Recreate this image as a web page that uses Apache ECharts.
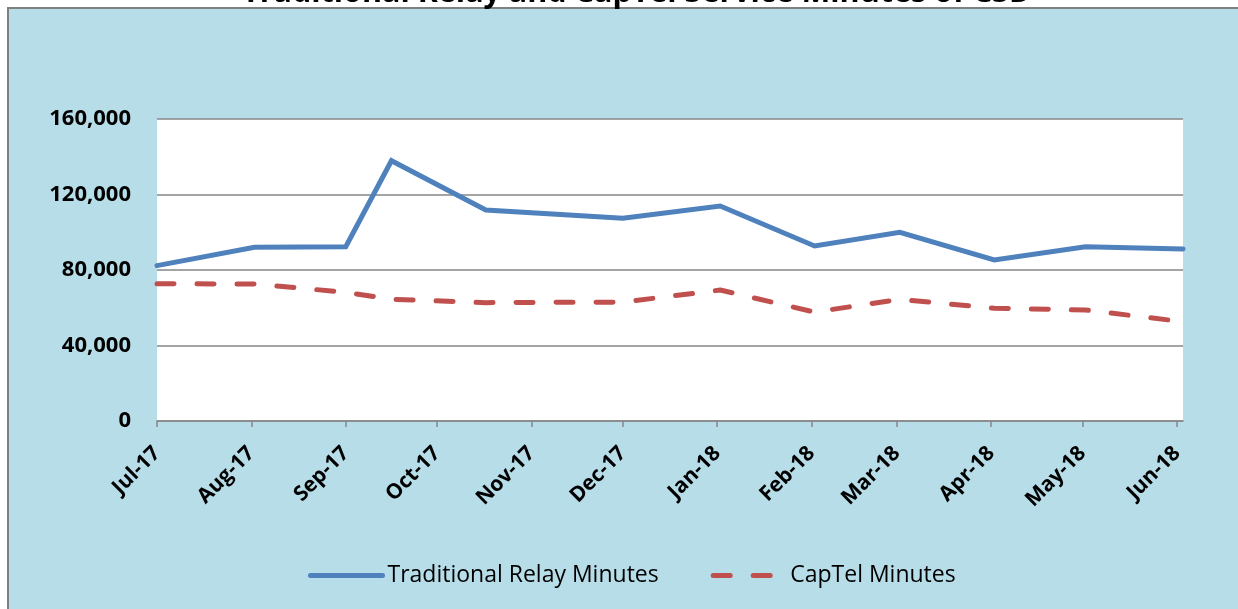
<!DOCTYPE html>
<html>
<head>
<meta charset="utf-8">
<script src="https://cdn.jsdelivr.net/npm/echarts@6/dist/echarts.min.js"></script>
<style>
  html, body { margin: 0; padding: 0; background: #fff; overflow: hidden; }
  #box { position: absolute; left: 7px; top: 7px; width: 1240px; height: 610px;
         background: #b7dde8; border-left: 2px solid #808080; border-top: 2px solid #808080; }
  #main { position: absolute; left: 0; top: 0; width: 1238px; height: 609px; }
</style>
</head>
<body>
<div id="box"></div>
<div id="main"></div>
<script>
// dates the points were recorded on (date axis, not evenly spaced)
let pointDates = ['2017-07-01', '2017-08-02', '2017-09-01', '2017-09-16', '2017-10-17', '2017-12-01',
                  '2018-01-02', '2018-02-02', '2018-03-02', '2018-04-02', '2018-05-02', '2018-06-03'];
let relayMinutes = [82300, 92000, 92300, 137900, 111800, 107400, 113900, 92700, 100000, 85300, 92300, 91100];
let captelMinutes = [72700, 72600, 68200, 64500, 62700, 63000, 69400, 57700, 64500, 59700, 58800, 52600];
// month ticks on the x axis
let monthTicks = ['2017-07-01', '2017-08-01', '2017-09-01', '2017-10-01', '2017-11-01', '2017-12-01',
                  '2018-01-01', '2018-02-01', '2018-03-01', '2018-04-01', '2018-05-01', '2018-06-01'];
let monthNames = ['Jan', 'Feb', 'Mar', 'Apr', 'May', 'Jun', 'Jul', 'Aug', 'Sep', 'Oct', 'Nov', 'Dec'];
let yTicks = [0, 40000, 80000, 120000, 160000];

function toTime(s) {
    let p = s.split('-');
    return new Date(+p[0], +p[1] - 1, +p[2]).getTime();
}
let tickTimes = monthTicks.map(toTime);

let chart = echarts.init(document.getElementById('main'));
let option = {
    backgroundColor: 'transparent',
    title: {
        text: 'Traditional Relay and CapTel Service Minutes of CSD',
        left: 237,
        top: -27,
        textStyle: { fontFamily: 'Open Sans', fontWeight: 'bold', fontSize: 30.5, color: '#000' }
    },
    grid: {
        left: 157, right: 55, top: 119, bottom: 188,
        show: true, backgroundColor: '#fff', borderWidth: 0
    },
    legend: {
        bottom: 17,
        left: 303,
        itemWidth: 72,
        itemHeight: 14,
        itemGap: 52,
        itemStyle: { opacity: 0 },
        lineStyle: { width: 5, cap: 'round' },
        textStyle: { fontFamily: 'Open Sans', fontSize: 23, color: '#000' },
        data: ['Traditional Relay Minutes', 'CapTel Minutes']
    },
    xAxis: {
        // date axis drawn as a value axis of timestamps
        type: 'value',
        min: toTime(pointDates[0]),
        max: toTime(pointDates[pointDates.length - 1]),
        axisLine: { lineStyle: { color: '#868686', width: 1.5 } },
        axisTick: { show: true, customValues: tickTimes, length: 6, lineStyle: { color: '#868686', width: 1.5 } },
        splitLine: { show: false },
        axisLabel: {
            customValues: tickTimes,
            rotate: 45,
            margin: 29,
            fontFamily: 'Open Sans',
            fontWeight: 'bold',
            fontSize: 21,
            color: '#000',
            formatter: function (v) {
                let d = new Date(v);
                return monthNames[d.getMonth()] + '-' + String(d.getFullYear()).slice(2);
            }
        }
    },
    yAxis: {
        type: 'value',
        min: yTicks[0],
        max: yTicks[yTicks.length - 1],
        interval: 40000,
        axisLine: { show: false },
        axisTick: { show: false },
        splitLine: { lineStyle: { color: '#868686', width: 1.5 } },
        axisLabel: {
            margin: 26,
            fontFamily: 'Open Sans',
            fontWeight: 'bold',
            fontSize: 22,
            color: '#000',
            formatter: function (v) { return v.toLocaleString('en-US'); }
        }
    },
    series: [
        {
            name: 'Traditional Relay Minutes',
            type: 'line',
            symbol: 'none',
            itemStyle: { color: '#4f81bd' },
            lineStyle: { color: '#4f81bd', width: 5, cap: 'round', join: 'miter' },
            data: pointDates.map((d, i) => [toTime(d), relayMinutes[i]])
        },
        {
            name: 'CapTel Minutes',
            type: 'line',
            symbol: 'none',
            itemStyle: { color: '#c0504d' },
            lineStyle: { color: '#c0504d', width: 5, type: [17, 23], cap: 'round' },
            data: pointDates.map((d, i) => [toTime(d), captelMinutes[i]])
        }
    ]
};
chart.setOption(option);
</script>
</body>
</html>
